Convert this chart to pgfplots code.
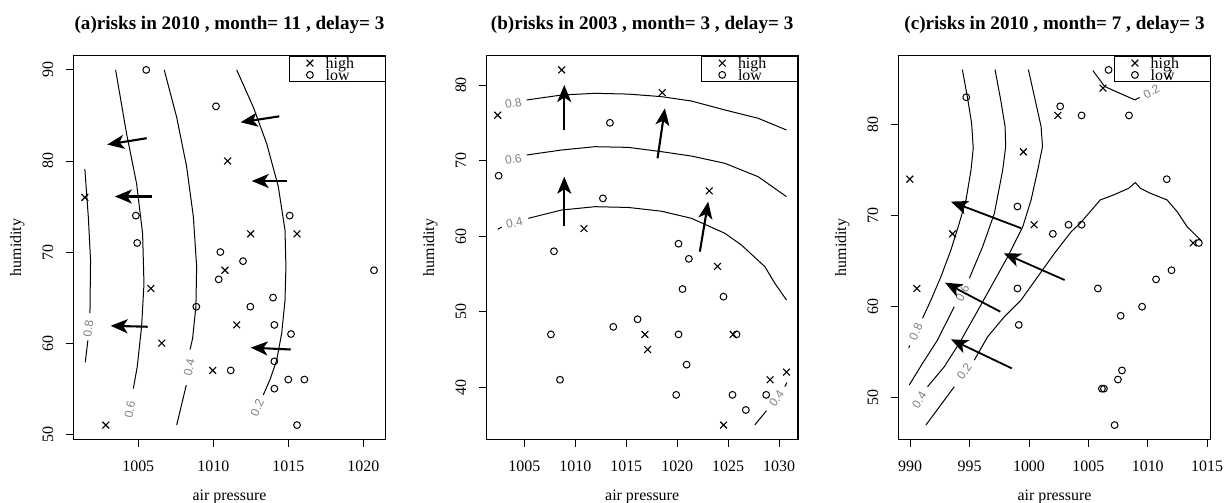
\documentclass[border=0pt]{standalone}
\usepackage{fontspec}
\setmainfont{Liberation Serif}
\newfontfamily\labfont{Liberation Sans}
\usepackage{pgfplots}
\pgfplotsset{compat=1.18}
\usetikzlibrary{arrows.meta}

\tikzset{clab/.style={gray, font=\labfont\fontsize{12}{12}\selectfont, inner sep=0.5bp}}
\pgfplotsset{
  rplot/.style={
    scale only axis, height=383.6bp,
    axis line style={line width=1.1bp},
    tick align=outside, xtick pos=bottom, ytick pos=left,
    major tick length=7.5bp,
    tick style={line width=0.9bp, black},
    tick label style={font=\fontsize{16}{19}\selectfont},
    /pgf/number format/1000 sep={},
    /pgf/number format/assume math mode=true,
    xticklabel style={anchor=base, yshift=-24.3bp},
    yticklabel style={xshift=-12.7bp, rotate=90, anchor=base},
    every axis title/.style={at={(0.5,1)}, anchor=base, yshift=26.4bp,
      font=\bfseries\fontsize{19.2}{23}\selectfont},
    every axis x label/.style={at={(0.5,0)}, anchor=base, yshift=-61.5bp,
      font=\fontsize{16}{19}\selectfont},
    every axis y label/.style={at={(0,0.5)}, xshift=-56bp, rotate=90, anchor=center,
      font=\fontsize{16}{19}\selectfont},
    xlabel={air pressure}, ylabel={humidity},
    legend style={at={(1,1)}, anchor=north east, draw=black, line width=1bp,
      fill=none, inner xsep=17bp, inner ysep=3.5bp, row sep=5bp,
      font=\fontsize{16}{19}\selectfont,
      /tikz/every odd column/.append style={column sep=10.4bp}},
    legend cell align=left,
    clip=false,
  },
  hi/.style={only marks, mark=x, mark size=4.8bp, line width=1.1bp, black},
  lo/.style={only marks, mark=o, mark size=3.4bp, line width=1bp, black},
  cont/.style={forget plot, black, line width=1bp, no marks},
  arr/.style={forget plot, black, line width=2.1bp,
    quiver={u=\thisrow{u}, v=\thisrow{v},
      every arrow/.append style={-{Stealth[length=17bp, width=14bp, inset=4.5bp]}}}},
}
\newcommand{\lh}[1]{\makebox[40.5bp][l]{\smash{\raisebox{-6.5bp}{#1}}}}

\begin{document}
\begin{tikzpicture}
\path[use as bounding box] (0,0) rectangle (1224bp,503bp);

% ---------- panel (a)
\begin{axis}[rplot, at={(73.3bp,63.7bp)}, anchor=south west, width=312.4bp,
  xmin=1000.67, xmax=1021.49, ymin=49.44, ymax=91.56,
  xtick={1005,1010,1015,1020}, ytick={50,60,70,80,90},
  title={(a)risks in 2010 , month= 11 , delay= 3}]
\addplot [hi] table {
1001.44 76
1002.84 51
1005.84 66
1006.56 60
1009.96 57
1010.96 80
1010.78 68
1012.49 72
1011.56 62
1015.58 72
};
\addplot [lo] table {
1005.53 90
1004.84 74
1004.93 71
1010.18 86
1010.47 70
1010.36 67
1011.98 69
1008.87 64
1012.47 64
1015.09 74
1013.98 65
1014.07 62
1015.18 61
1014.07 58
1015.00 56
1016.07 56
1014.07 55
1015.58 51
1011.16 57
1020.71 68
};
\legend{\lh{high},\lh{low}}
% contours
\addplot [cont] coordinates {(1001.44,79.1) (1001.67,73.9) (1001.82,69.1) (1001.78,63.3)};
\addplot [cont] coordinates {(1001.64,60.3) (1001.47,57.9)};
\addplot [cont] coordinates {(1003.49,90) (1004.22,83.0) (1004.89,77.5) (1005.29,72.0) (1005.38,66.5) (1005.22,61.8) (1004.93,57.4) (1004.67,55.0)};
\addplot [cont] coordinates {(1006.73,90) (1007.56,84.8) (1008.22,79.4) (1008.67,73.9) (1008.89,68.4) (1008.84,64.0) (1008.62,60.5) (1008.45,59.3)};
\addplot [cont] coordinates {(1008.2,55.4) (1007.56,51.0)};
\addplot [cont] coordinates {(1011.56,90) (1012.67,85.9) (1013.56,81.9) (1014.33,77.2) (1014.78,72.4) (1014.84,68.4) (1014.78,64.7) (1014.56,61.1) (1014.22,58.1) (1013.78,56.0) (1013.33,54.3)};
\node [clab, rotate=83] at (axis cs:1001.67,61.6) {0.8};
\node [clab, rotate=79] at (axis cs:1004.44,52.7) {0.6};
\node [clab, rotate=78] at (axis cs:1008.40,57.3) {0.4};
\node [clab, rotate=66] at (axis cs:1012.93,52.9) {0.2};
% arrows
\addplot [arr] table {
x y u v
1014.40 84.90 -2.58 -0.65
1005.56 82.50 -2.63 -0.70
1005.89 76.10 -2.45 0
1014.93 77.80 -2.37 0
1005.62 61.80 -2.46 0.10
1015.16 59.30 -2.67 0.20
};
\end{axis}

% ---------- panel (b)
\begin{axis}[rplot, at={(486.3bp,63.7bp)}, anchor=south west, width=311.7bp,
  xmin=1001.27, xmax=1031.85, ymin=33.12, ymax=83.88,
  xtick={1005,1010,1015,1020,1025,1030}, ytick={40,50,60,70,80},
  title={(b)risks in 2003 , month= 3 , delay= 3}]
\addplot [hi] table {
1008.66 82
1002.39 76
1018.53 79
1010.85 61
1023.14 66
1023.95 56
1016.83 47
1017.09 45
1025.49 47
1024.55 35
1029.12 41
1030.72 42
};
\addplot [lo] table {
1002.48 68
1013.40 75
1012.71 65
1007.91 58
1007.61 47
1008.50 41
1013.73 48
1016.11 49
1020.13 59
1021.14 57
1020.52 53
1020.13 47
1020.92 43
1019.90 39
1024.54 52
1025.82 47
1025.42 39
1026.73 37
1028.73 39
};
\legend{\lh{high},\lh{low}}
\addplot [cont] coordinates {(1005.23,78.02) (1008.66,78.68) (1011.93,78.9) (1015.2,78.8) (1018.46,78.46) (1021.4,77.88) (1024.67,76.7) (1027.94,75.6) (1030.72,74.05)};
\addplot [cont] coordinates {(1005.23,70.74) (1008.66,71.4) (1011.93,71.84) (1015.2,71.75) (1018.46,71.18) (1021.4,70.6) (1024.67,69.64) (1027.94,67.87) (1030.72,65.23)};
\addplot [cont] coordinates {(1002.39,60.9) (1002.78,61.2)};
\addplot [cont] coordinates {(1005.39,62.36) (1008.66,63.46) (1011.93,63.9) (1015.2,63.8) (1018.46,63.3) (1021.4,62.36) (1024.67,60.38) (1026.3,58.83) (1028.6,55.96) (1029.58,53.76) (1030.72,51.55)};
\addplot [cont] coordinates {(1027.61,35.02) (1028.76,36.91)};
\addplot [cont] coordinates {(1030.56,40.09) (1030.77,40.62)};
\node [clab, rotate=10] at (axis cs:1003.92,77.57) {0.8};
\node [clab, rotate=10] at (axis cs:1003.92,70.17) {0.6};
\node [clab, rotate=12] at (axis cs:1004.02,61.79) {0.4};
\node [clab, rotate=55] at (axis cs:1029.74,38.54) {0.4};
\addplot [arr] table {
x y u v
1008.92 74.05 0 5.95
1008.92 61.39 0 6.48
1018.07 70.30 0.72 6.61
1022.22 57.95 0.82 6.61
};
\end{axis}

% ---------- panel (c)
\begin{axis}[rplot, at={(898.3bp,63.7bp)}, anchor=south west, width=312.4bp,
  xmin=989.0, xmax=1015.3, ymin=45.44, ymax=87.56,
  xtick={990,995,1000,1005,1010,1015}, ytick={50,60,70,80},
  title={(c)risks in 2010 , month= 7 , delay= 3}]
\addplot [hi] table {
989.97 74
990.56 62
993.57 68
1002.43 81
999.53 77
1000.43 69
1006.23 84
1013.82 67
};
\addplot [lo] table {
994.72 83
1002.63 82
1004.43 81
1008.42 81
1006.70 86
999.03 71
1002.01 68
1003.33 69
1004.43 69
999.03 62
999.14 58
1005.80 62
1007.72 59
1009.52 60
1010.70 63
1012.00 64
1011.60 74
1014.30 67
1006.14 51
1006.31 51
1007.49 52
1007.83 53
1007.21 47
};
\legend{\lh{high},\lh{low}}
\addplot [cont] coordinates {(994.39,86.04) (994.81,83.08) (995.17,80.15) (995.31,77.4) (995.12,75.0) (994.7,71.73) (994.13,69.16) (993.43,66.23) (992.59,63.3) (991.75,60.74) (991.04,58.72)};
\addplot [cont] coordinates {(989.95,55.75) (989.88,55.45)};
\addplot [cont] coordinates {(997.14,86.04) (997.62,82.71) (997.99,79.78) (998.04,77.58) (997.79,75.02) (997.09,70.26) (996.1,66.59) (994.98,63.12)};
\addplot [cont] coordinates {(993.71,60) (992.3,56.34) (991.04,53.78) (989.92,51.4)};
\addplot [cont] coordinates {(999.95,86.04) (1000.52,82.71) (1001.02,79.78) (1001.14,77.58) (1000.74,75.02) (1000.18,71.73) (999.48,68.79) (998.21,65.49) (996.81,62.2) (995.4,58.9) (994.13,55.98) (992.87,53.41) (991.46,51.21)};
\addplot [cont] coordinates {(991.32,47.0) (993.71,51.21)};
\addplot [cont] coordinates {(995.4,54.14) (996.52,56.7) (997.93,58.9) (999.34,60.74) (1000.74,63.3) (1002.15,65.87) (1003.56,68.24) (1004.31,69.16) (1006.0,71.72) (1007.12,72.27) (1008.39,73.0) (1008.95,73.63) (1009.38,73.0) (1010.22,72.45) (1011.63,71.72) (1012.47,70.44) (1013.31,68.79) (1014.44,67.33)};
\addplot [cont] coordinates {(1005.38,85.93) (1006.37,84.18) (1008.9,82.71) (1009.32,82.97)};
\addplot [cont] coordinates {(1011.62,84.99) (1011.99,86.0)};
\node [clab, rotate=65] at (axis cs:990.48,57.25) {0.8};
\node [clab, rotate=63] at (axis cs:994.41,61.47) {0.6};
\node [clab, rotate=58] at (axis cs:990.76,49.75) {0.4};
\node [clab, rotate=55] at (axis cs:994.56,52.86) {0.2};
\node [clab, rotate=30] at (axis cs:1010.31,83.63) {0.2};
\addplot [arr, line width=1.8bp] table {
x y u v
999.34 68.62 -5.91 2.92
1003.00 62.93 -5.12 2.94
997.59 59.45 -4.66 3.19
998.55 53.23 -5.12 3.19
};
\end{axis}
\end{tikzpicture}
\end{document}
